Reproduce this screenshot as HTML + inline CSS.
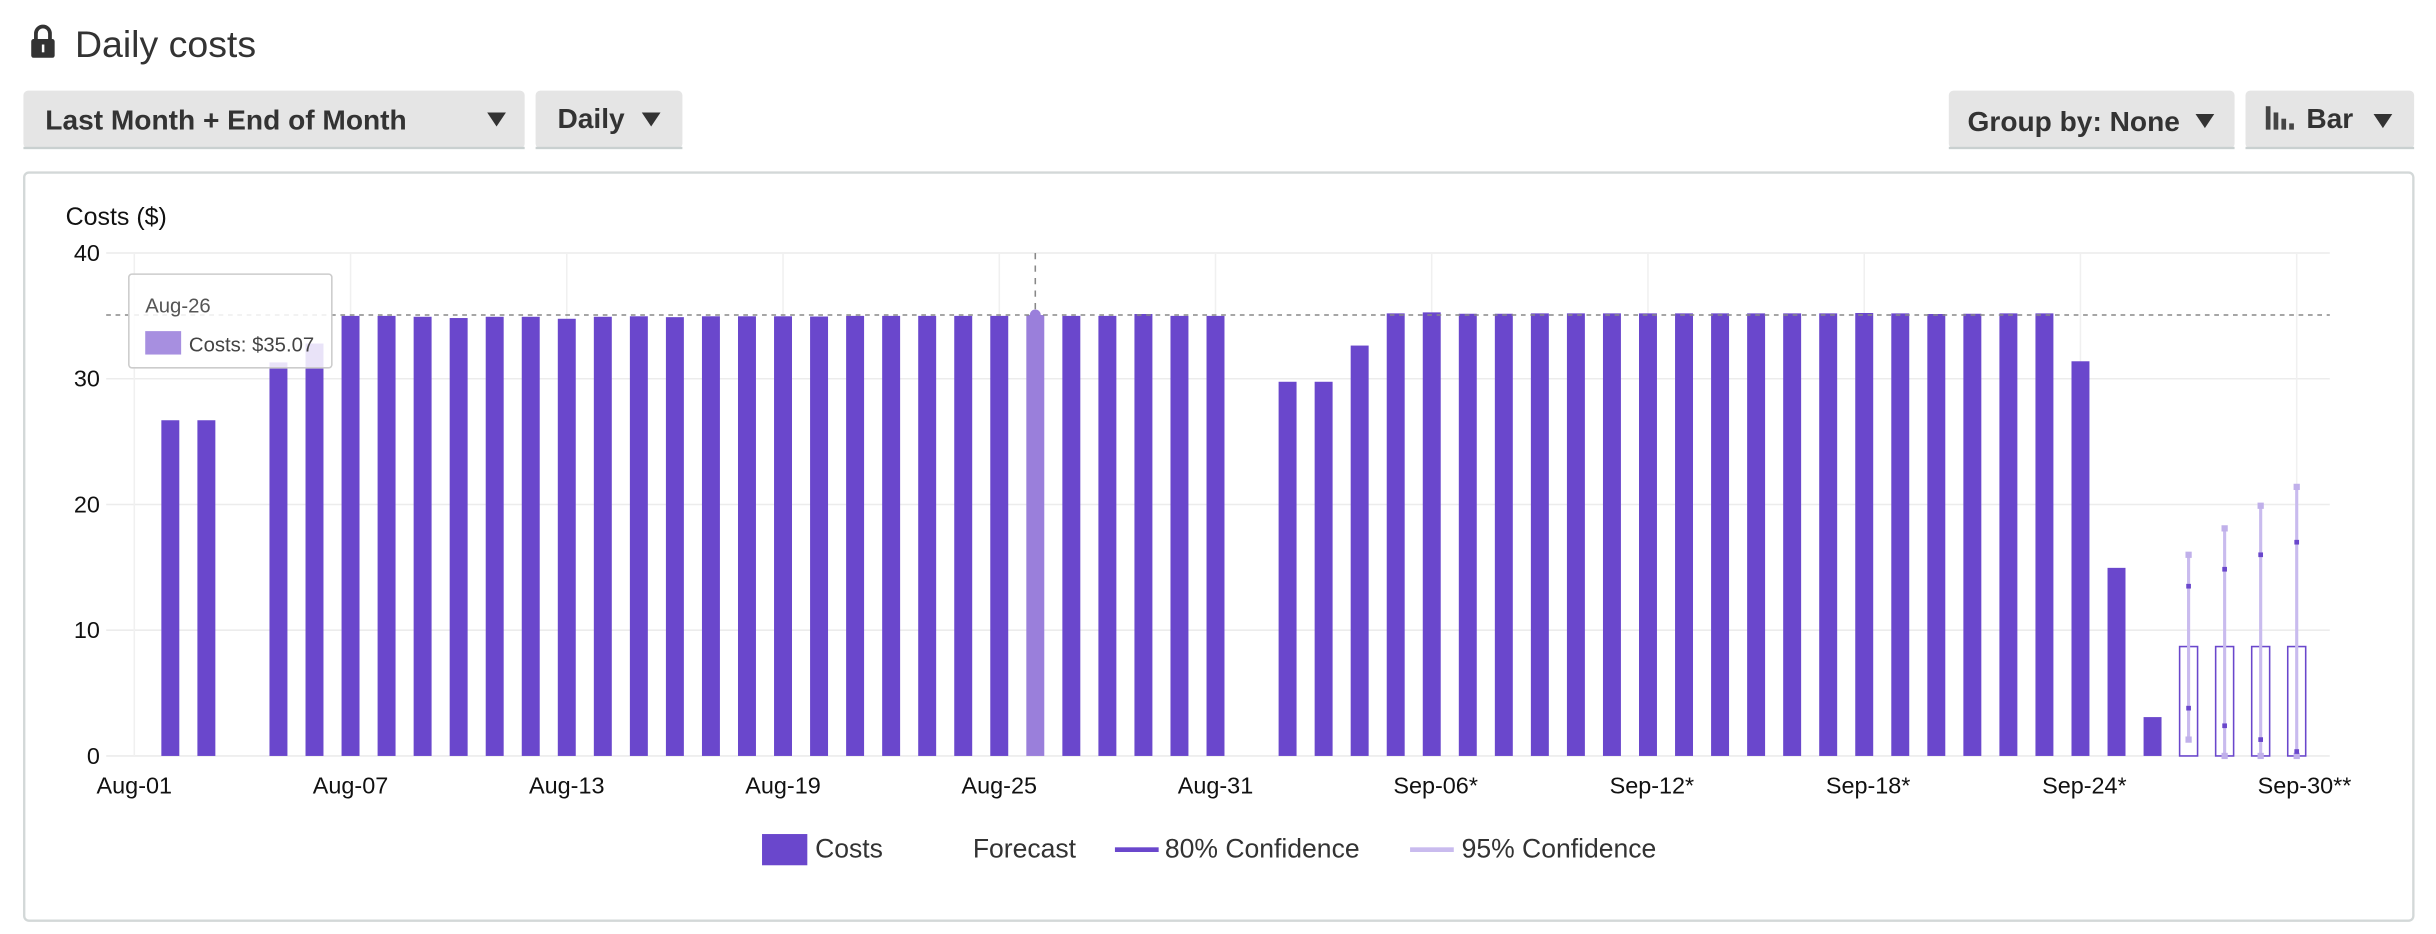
<!DOCTYPE html>
<html><head><meta charset="utf-8"><style>
html,body{margin:0;padding:0;background:#fff;}
svg{display:block;font-family:"Liberation Sans",Arial,sans-serif;}
</style></head><body>
<svg id="root" width="2436" height="934" viewBox="0 0 1560 598" preserveAspectRatio="none">
<g>
<rect x="20" y="25" width="15" height="12" rx="1.5" fill="#333"/>
<path d="M23 25 v-3.5 a4.5 4.5 0 0 1 9 0 v3.5" fill="none" stroke="#333" stroke-width="2.4"/>
<rect x="26.8" y="28.5" width="1.6" height="5" fill="#fff"/>
</g>
<text x="48" y="36.5" font-size="24" fill="#333">Daily costs</text>

<g>
<rect x="15" y="58" width="321" height="37" rx="3" fill="#e5e5e5"/><rect x="15" y="94" width="321" height="1.5" fill="#c9d0d0"/>
<text x="29" y="83" font-size="18" font-weight="bold" fill="#333">Last Month + End of Month</text>
<path d="M312 72 h12 l-6 9 z" fill="#333"/></g>
<g>
<rect x="343" y="58" width="94" height="37" rx="3" fill="#e5e5e5"/><rect x="343" y="94" width="94" height="1.5" fill="#c9d0d0"/>
<text x="357" y="82" font-size="18" font-weight="bold" fill="#333">Daily</text>
<path d="M411 72 h12 l-6 9 z" fill="#333"/></g>
<g>
<rect x="1248" y="58" width="183" height="37" rx="3" fill="#e5e5e5"/><rect x="1248" y="94" width="183" height="1.5" fill="#c9d0d0"/>
<text x="1260" y="84" font-size="18" font-weight="bold" fill="#333">Group by: None</text>
<path d="M1406 73 h12 l-6 9 z" fill="#333"/></g>
<g>
<rect x="1438" y="58" width="108" height="37" rx="3" fill="#e5e5e5"/><rect x="1438" y="94" width="108" height="1.5" fill="#c9d0d0"/>
<rect x="1451" y="68" width="3" height="15" fill="#444"/><rect x="1456" y="72" width="3" height="11" fill="#444"/><rect x="1461" y="76" width="3" height="7" fill="#444"/><rect x="1466" y="79" width="3" height="4" fill="#444"/>
<text x="1477" y="82" font-size="18" font-weight="bold" fill="#333">Bar</text>
<path d="M1520 73 h12 l-6 9 z" fill="#333"/></g>

<rect x="15.5" y="110.5" width="1530" height="479" rx="3" fill="#fff" stroke="#d3d8d8" stroke-width="1.5"/>
<text x="42" y="144" font-size="16" fill="#111">Costs ($)</text>
<g id="chart"></g>

<g>
<g><rect x="488" y="534" width="29" height="20" fill="#6a47cc"/><text x="522" y="549" font-size="17" fill="#333">Costs</text></g>
<g><text x="623" y="549" font-size="17" fill="#333">Forecast</text></g>
<g><rect x="714" y="542.5" width="28" height="3" fill="#6a47cc"/><text x="746" y="549" font-size="17" fill="#333">80% Confidence</text></g>
<g><rect x="903" y="542.5" width="28" height="3" fill="#c9bbee"/><text x="936" y="549" font-size="17" fill="#333">95% Confidence</text></g>
</g>
</svg>
<script>
const dayCount = 61;
const tickIndex = [0, 6, 12, 18, 24, 30, 36, 42, 48, 54, 60];
const tickLabels = ["Aug-01","Aug-07","Aug-13","Aug-19","Aug-25","Aug-31","Sep-06*","Sep-12*","Sep-18*","Sep-24*","Sep-30**"];
const yTicks = [0, 10, 20, 30, 40];
const costs = [null,26.7,26.7,null,31.3,32.8,35.0,35.0,34.93,34.83,34.93,34.93,34.77,34.93,34.97,34.9,34.97,34.97,34.97,34.95,35.0,35.0,35.0,35.0,35.0,35.07,35.0,35.0,35.15,35.0,35.0,null,29.76,29.76,32.64,35.2,35.28,35.17,35.17,35.2,35.2,35.2,35.2,35.2,35.2,35.2,35.2,35.2,35.23,35.2,35.15,35.17,35.2,35.2,31.39,14.96,3.09,null,null,null,null];
const forecastIndex = [57, 58, 59, 60];
const forecastMid = [8.7, 8.7, 8.7, 8.7];
const ci80Low = [3.8, 2.4, 1.3, 0.35];
const ci80High = [13.5, 14.85, 16.0, 17.0];
const ci95Low = [1.3, 0, 0, 0];
const ci95High = [16.0, 18.1, 19.9, 21.4];
const highlightIndex = 25;

const NS = "http://www.w3.org/2000/svg";
const g = document.getElementById("chart");
const x0 = 68, x1 = 1492;
function xPos(i){ return 86 + i * 23.08; }
function yPos(v){ return 484 - v * 8.05; }
function mk(tag, attrs, parent){ const e = document.createElementNS(NS, tag); for (const k in attrs) e.setAttribute(k, attrs[k]); (parent||g).appendChild(e); return e; }

yTicks.forEach(v => {
  const l = mk("line", {x1:x0, x2:x1, y1:yPos(v), y2:yPos(v), stroke:"#ececec", "stroke-width":1});
  
  
  const t = mk("text", {x:64, y:yPos(v)+5, "font-size":15, "text-anchor":"end", fill:"#111"});
  t.textContent = v;
  
  
});
tickIndex.forEach((idx, k) => {
  const l = mk("line", {x1:xPos(idx), x2:xPos(idx), y1:yPos(40), y2:yPos(0), stroke:"#f0f0f0", "stroke-width":1});
  
  
  const lab = tickLabels[k];
  const stars = (lab.match(/\*/g) || []).length;
  const t = mk("text", {x:xPos(idx) + stars*2.5, y:508, "font-size":15, "text-anchor":"middle", fill:"#111"});
  t.textContent = lab;
  
  
});

const bw = 11.5;
costs.forEach((v, i) => {
  if (v === null) return;
  const r = mk("rect", {x:xPos(i)-bw/2, y:yPos(v), width:bw, height:yPos(0)-yPos(v), fill: i===highlightIndex ? "#9a7fdb" : "#6a47cc"});
  
  
});

forecastIndex.forEach((idx, k) => {
  const cx = xPos(idx);
  const b = mk("rect", {x:cx-bw/2, y:yPos(forecastMid[k]), width:bw, height:yPos(0)-yPos(forecastMid[k]), fill:"#fff", stroke:"#6a47cc", "stroke-width":1});
  
  
  const w = mk("line", {x1:cx, x2:cx, y1:yPos(ci95Low[k]), y2:yPos(ci95High[k]), stroke:"#c9bbee", "stroke-width":2});
  
  
  [ci95Low[k], ci95High[k]].forEach(v => {
    const c = mk("rect", {x:cx-2, y:yPos(v)-2, width:4, height:4, fill:"#c0b0ea"});
    
    
  });
  [ci80Low[k], ci80High[k]].forEach(v => {
    const c = mk("rect", {x:cx-1.5, y:yPos(v)-1.5, width:3, height:3, fill:"#6a47cc"});
    
    
  });
});

const hv = costs[highlightIndex];
const hl = mk("line", {x1:x0, x2:x1, y1:yPos(hv), y2:yPos(hv), stroke:"#888", "stroke-width":1, "stroke-dasharray":"3,3"});


const vl = mk("line", {x1:xPos(highlightIndex), x2:xPos(highlightIndex), y1:yPos(40), y2:yPos(hv), stroke:"#888", "stroke-width":1, "stroke-dasharray":"4,4"});


const dot = mk("circle", {cx:xPos(highlightIndex), cy:yPos(hv), r:3.5, fill:"#9a7fdb"});



const tip = mk("g", {});


mk("rect", {x:82.5, y:175.5, width:130, height:60, rx:2, fill:"rgba(255,255,255,0.85)", stroke:"#ccc", "stroke-width":1}, tip);
const t1 = mk("text", {x:93, y:200, "font-size":13, fill:"#555"}, tip); t1.textContent = "Aug-26";
mk("rect", {x:93, y:212, width:23, height:15, fill:"#a78fe0"}, tip);
const t2 = mk("text", {x:121, y:225, "font-size":13, fill:"#444"}, tip); t2.textContent = "Costs: $" + hv.toFixed(2);
</script>
</body></html>
